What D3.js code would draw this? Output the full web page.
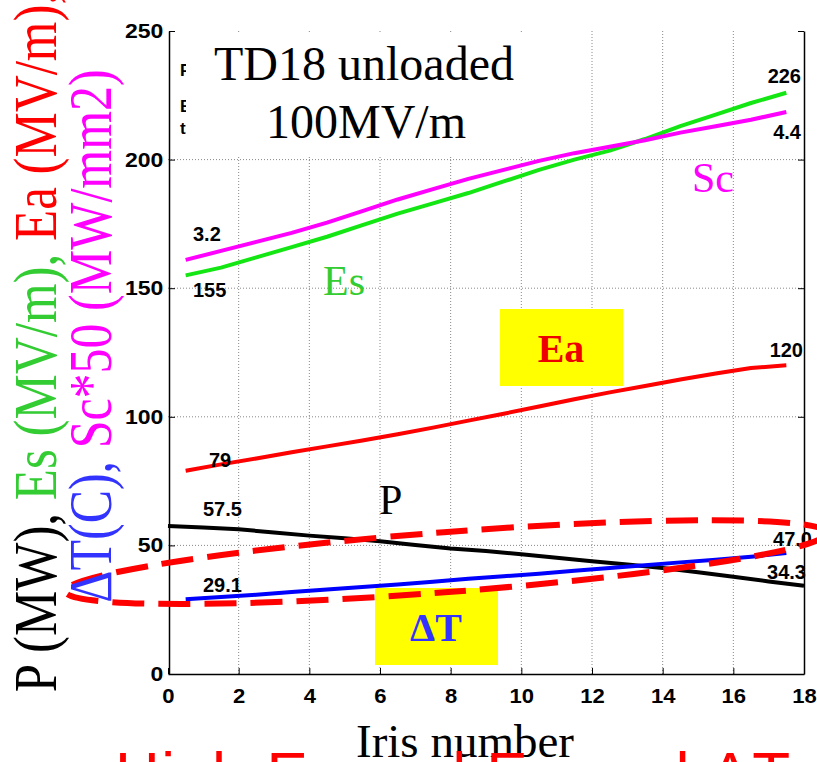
<!DOCTYPE html>
<html>
<head>
<meta charset="utf-8">
<script src="https://cdn.jsdelivr.net/npm/d3@7"></script>
<style>
    html, body { margin: 0; padding: 0; background: #fff; }
    svg { display: block; }
</style>
</head>
<body>
<svg width="817" height="762"></svg>
<script>
"use strict"

// iris positions: cell centres for fields, iris edges for power
const cellX = [0.5, 1.5, 2.5, 3.5, 4.5, 5.5, 6.5, 7.5, 8.5, 9.5, 10.5, 11.5, 12.5, 13.5, 14.5, 15.5, 16.5, 17.5]
const irisX = [0, 1, 2, 3, 4, 5, 6, 7, 8, 9, 10, 11, 12, 13, 14, 15, 16, 17, 18]

const esValues = [155, 158, 162, 166, 170, 174.5, 179, 183, 187, 191.5, 196, 200, 203.5, 208, 213, 217.5, 222, 226]
const scValues = [3.22, 3.29, 3.36, 3.43, 3.51, 3.6, 3.69, 3.77, 3.85, 3.92, 3.99, 4.05, 4.1, 4.15, 4.21, 4.26, 4.31, 4.37]
const eaValues = [79, 81.5, 83.8, 86.2, 88.5, 90.8, 93.2, 95.8, 98.5, 101.2, 104, 106.8, 109.5, 112, 114.5, 116.8, 119, 120]
const dtValues = [29.1, 29.9, 30.8, 31.9, 32.9, 33.8, 34.8, 35.9, 37.0, 38.0, 39.0, 40.1, 41.2, 42.3, 43.4, 44.4, 45.6, 47.0]
const pValues = [57.5, 57, 56.3, 55, 53.8, 52.8, 51.6, 50.2, 48.8, 47.8, 46.6, 45.2, 43.8, 42.6, 41.2, 39.6, 37.8, 36, 34.3]

const xTicks = [0, 2, 4, 6, 8, 10, 12, 14, 16, 18]
const yTicks = [0, 50, 100, 150, 200, 250]
const SC_FACTOR = 50

const GREEN = "#14e614"
const MAGENTA = "#ff00ff"
const RED = "#ff0000"
const BLUE = "#0000ff"

const svg = d3.select("svg")

const x = d3.scaleLinear().domain([0, 18]).range([168, 804])
const y = d3.scaleLinear().domain([0, 250]).range([674, 31])

// grid
svg.append("g")
    .selectAll("line")
    .data(xTicks.slice(1, -1))
    .join("line")
    .attr("x1", (d) => x(d))
    .attr("x2", (d) => x(d))
    .attr("y1", y(250))
    .attr("y2", y(0))
    .attr("stroke", "#888")
    .attr("stroke-dasharray", "1,2")

svg.append("g")
    .selectAll("line")
    .data(yTicks.slice(1, -1))
    .join("line")
    .attr("x1", x(0))
    .attr("x2", x(18))
    .attr("y1", (d) => y(d))
    .attr("y2", (d) => y(d))
    .attr("stroke", "#888")
    .attr("stroke-dasharray", "1,2")

// axes, ticks pointing inward
const tickFont = "'Liberation Sans', Arial, sans-serif"

const leftAxis = svg.append("g")
    .attr("transform", `translate(${x(0) + 1},0)`)
    .call(d3.axisLeft(y).tickValues(yTicks).tickSize(-6).tickPadding(5).tickSizeOuter(0))
leftAxis.selectAll("text")
    .attr("font-size", 20).attr("font-weight", "bold").attr("font-family", tickFont).attr("fill", "#000")
    .attr("transform", "scale(1.15,1)")

const bottomAxis = svg.append("g")
    .attr("transform", `translate(0,${y(0)})`)
    .call(d3.axisBottom(x).tickValues(xTicks).tickSize(-6).tickPadding(14).tickSizeOuter(0))
bottomAxis.selectAll("text")
    .attr("font-size", 21).attr("font-weight", "bold").attr("font-family", tickFont).attr("fill", "#000")
    .attr("transform", "scale(1.05,1)")

svg.append("g")
    .attr("transform", `translate(${x(18)},0)`)
    .call(d3.axisRight(y).tickValues(yTicks).tickSize(-6).tickFormat("").tickSizeOuter(0))

svg.selectAll(".domain").attr("stroke", "#000").attr("stroke-width", 1.5)

// legend remnants, mostly hidden under the title box
const legend = svg.append("g")
    .attr("font-family", tickFont)
    .attr("font-weight", "bold")
    .attr("font-size", 17)
legend.append("text").attr("x", 180).attr("y", 76).text("P")
legend.append("text").attr("x", 180).attr("y", 112).text("E")
legend.append("text").attr("x", 180).attr("y", 134).text("t")

svg.append("rect")
    .attr("x", 186)
    .attr("y", 33)
    .attr("width", 370)
    .attr("height", 123)
    .attr("fill", "#fff")

// series
const line = d3.line()
    .x((d) => x(d[0]))
    .y((d) => y(d[1]))

const series = [
    { xs: cellX, values: esValues, color: GREEN },
    { xs: cellX, values: scValues.map((v) => v * SC_FACTOR), color: MAGENTA },
    { xs: cellX, values: eaValues, color: RED },
    { xs: irisX, values: pValues, color: "#000" },
    { xs: cellX, values: dtValues, color: BLUE },
]

series.forEach((s) => {
    svg.append("path")
        .datum(s.xs.map((xv, i) => [xv, s.values[i]]))
        .attr("fill", "none")
        .attr("stroke", s.color)
        .attr("stroke-width", 4)
        .attr("stroke-linejoin", "round")
        .attr("d", line)
})

// end value labels
const first = (arr) => arr[0]
const last = (arr) => arr[arr.length - 1]
const valueLabels = [
    { text: last(esValues).toFixed(0), x: 801, y: y(last(esValues)) - 15, anchor: "end" },
    { text: last(scValues).toFixed(1), x: 801, y: y(last(scValues) * SC_FACTOR) + 22, anchor: "end" },
    { text: first(scValues).toFixed(1), x: 193, y: y(first(scValues) * SC_FACTOR) - 24, anchor: "start" },
    { text: first(esValues).toFixed(0), x: 193, y: y(first(esValues)) + 16, anchor: "start" },
    { text: last(eaValues).toFixed(0), x: 803, y: y(last(eaValues)) - 14, anchor: "end" },
    { text: first(eaValues).toFixed(0), x: 209, y: y(first(eaValues)) - 9, anchor: "start" },
    { text: first(pValues).toFixed(1), x: 203, y: y(first(pValues)) - 15, anchor: "start" },
    { text: first(dtValues).toFixed(1), x: 203, y: y(first(dtValues)) - 12, anchor: "start" },
    { text: last(dtValues).toFixed(1), x: 812, y: y(last(dtValues)) - 12, anchor: "end" },
    { text: last(pValues).toFixed(1), x: 806, y: y(last(pValues)) - 12, anchor: "end" },
]
svg.append("g")
    .attr("font-family", tickFont)
    .attr("font-weight", "bold")
    .attr("font-size", 20)
    .selectAll("text")
    .data(valueLabels)
    .join("text")
    .attr("x", (d) => d.x)
    .attr("y", (d) => d.y)
    .attr("text-anchor", (d) => d.anchor)
    .attr("dominant-baseline", "middle")
    .text((d) => d.text)

// title
const serif = "'Liberation Serif', 'Times New Roman', serif"
svg.append("text")
    .attr("x", 364).attr("y", 80)
    .attr("text-anchor", "middle")
    .attr("font-family", serif).attr("font-size", 48)
    .text("TD18 unloaded")
svg.append("text")
    .attr("x", 366).attr("y", 138)
    .attr("text-anchor", "middle")
    .attr("font-family", serif).attr("font-size", 48)
    .text("100MV/m")

// curve names
svg.append("text").attr("x", 323).attr("y", 295)
    .attr("font-family", serif).attr("font-size", 42).attr("fill", "#33cc33").text("Es")
svg.append("text").attr("x", 692).attr("y", 192)
    .attr("font-family", serif).attr("font-size", 42).attr("fill", MAGENTA).text("Sc")
svg.append("text").attr("x", 379).attr("y", 514)
    .attr("font-family", serif).attr("font-size", 42).attr("fill", "#000").text("P")

// yellow tags
const tags = [
    { text: "Ea", x: 500, y: 309, color: "#ee0000" },
    { text: "\u0394T", x: 375, y: 588, color: "#3333ff" },
]
tags.forEach((t) => {
    svg.append("rect")
        .attr("x", t.x).attr("y", t.y)
        .attr("width", 123).attr("height", 77)
        .attr("fill", "#ffff00")
    svg.append("text")
        .attr("x", t.x + 61).attr("y", t.y + 53)
        .attr("text-anchor", "middle")
        .attr("font-family", serif).attr("font-weight", "bold").attr("font-size", 40)
        .attr("fill", t.color)
        .text(t.text)
})

// dashed highlight ellipse around P and dT
svg.append("ellipse")
    .attr("cx", 0).attr("cy", 0)
    .attr("rx", 382).attr("ry", 30)
    .attr("transform", `translate(${x(7.87)},${y(43.5)}) rotate(-4.4)`)
    .attr("fill", "none")
    .attr("stroke", RED)
    .attr("stroke-width", 6)
    .attr("stroke-dasharray", "32,14")

// y axis title, two coloured lines (stretched like the slide)
const yTitle1 = svg.append("text")
    .attr("transform", "translate(56,342) rotate(-90) scale(1,1.22)")
    .attr("text-anchor", "middle")
    .attr("font-family", serif).attr("font-size", 51)
yTitle1.append("tspan").attr("fill", "#000").text("P (MW), ")
yTitle1.append("tspan").attr("fill", "#33cc33").text("Es (MV/m), ")
yTitle1.append("tspan").attr("fill", RED).text("Ea (MV/m),")

const yTitle2 = svg.append("text")
    .attr("transform", "translate(111,336) rotate(-90) scale(1,1.22)")
    .attr("text-anchor", "middle")
    .attr("font-family", serif).attr("font-size", 50)
yTitle2.append("tspan").attr("fill", "#3333ff").text("\u0394T(C), ")
yTitle2.append("tspan").attr("fill", MAGENTA).text("Sc*50 (MW/mm2)")

// x axis title
svg.append("text")
    .attr("x", 465).attr("y", 757)
    .attr("text-anchor", "middle")
    .attr("font-family", serif).attr("font-size", 47)
    .text("Iris number")

// slide caption cut off at the bottom edge
svg.append("text")
    .attr("x", 115).attr("y", 795)
    .attr("textLength", 675)
    .attr("font-family", tickFont).attr("font-size", 62)
    .attr("fill", RED)
    .text("High Es and Ea and \u0394T")
</script>
</body>
</html>
